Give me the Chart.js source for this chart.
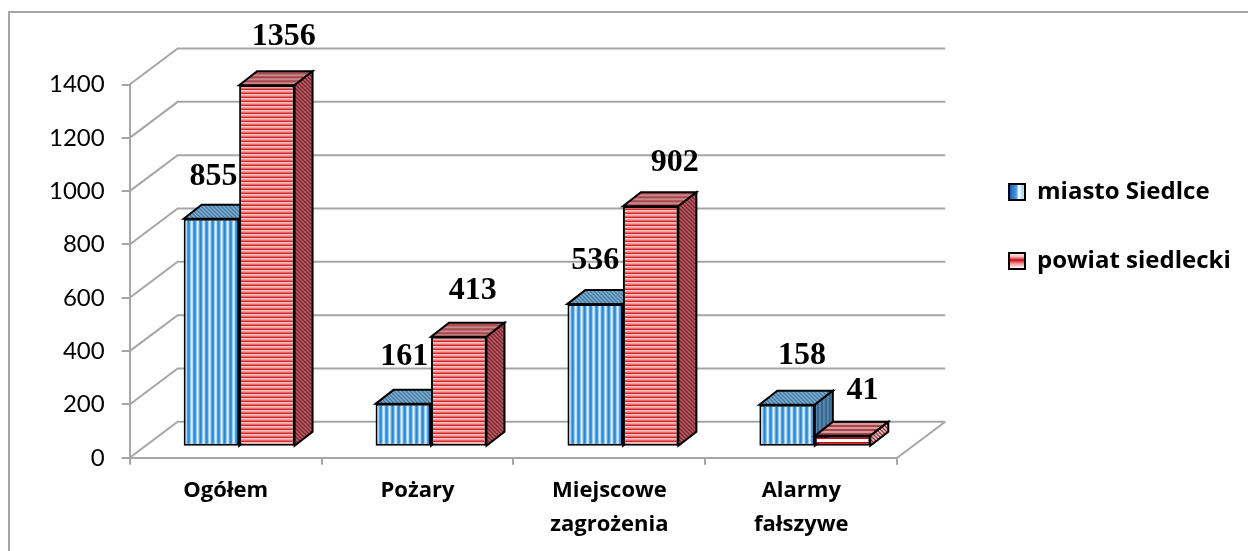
<!DOCTYPE html>
<html><head><meta charset="utf-8">
<style>html,body{margin:0;padding:0;background:#fff}canvas{display:block}</style>
<script src="https://cdn.jsdelivr.net/npm/chart.js@4"></script>
</head><body><canvas id="c" width="1248" height="551"></canvas>
<script>
const categories = [["Ogółem"],["Pożary"],["Miejscowe","zagrożenia"],["Alarmy","fałszywe"]];
const seriesNames = ["miasto Siedlce","powiat siedlecki"];
const miastoValues = [855,161,536,158];
const powiatValues = [1356,413,902,41];
const yMin = 0, yMax = 1400, yStep = 200;

// layout of the 3D look
const WALL = {dx:48, dy:-36};
const BAR_SHIFT = {dx:13.5, dy:-11};
const BAR_DEPTH = {dx:18, dy:-14};
const GRAY = "#a6a6a6";
const labelNudge = [
  [[2,-42],[1,-47],[0,-43],[15,-49]],
  [[17,-48],[14,-46],[24,-44],[20,-45]]
];

const ctx0 = document.getElementById("c").getContext("2d");
function pat(w,h,paint){
  const c=document.createElement("canvas");c.width=w;c.height=h;
  const x=c.getContext("2d");paint(x);
  return ctx0.createPattern(c,"repeat");
}
function vstripes(cols){return pat(cols.length,1,x=>cols.forEach((k,i)=>{x.fillStyle=k;x.fillRect(i,0,1,1)}))}
function hstripes(cols){return pat(1,cols.length,x=>cols.forEach((k,i)=>{x.fillStyle=k;x.fillRect(0,i,1,1)}))}
function hatch(a,b){return pat(4,4,x=>{x.fillStyle=a;x.fillRect(0,0,4,4);x.fillStyle=b;[[0,0],[1,1],[2,2],[3,3],[1,0],[2,1],[3,2],[0,3]].forEach(p=>x.fillRect(p[0],p[1],1,1))})}

const blueFront = vstripes(["#2d88d2","#2d88d2","#5aa5e0","#d6eafa","#eaf4fc","#7fbbe8"]);
const redFront = hstripes(["#d8222a","#f9c6c6","#f2a0a0","#e46a6a"]);
const R_="#c80a12",W_="#ffffff";
const redWide = hstripes([W_,W_,R_,R_,R_,R_,R_,R_,R_,R_,W_]);
const blueTop = hatch("#3f79a6","#86b0cf");
const blueSide = vstripes(["#2f5f88","#3f729c","#6c94b4","#3f729c"]);
const redTop = hstripes(["#a84a50","#bf7478","#c98a8c","#b05a5e"]);
const redSide = hatch("#7d1f2a","#b9666c");
const redTopLow = hstripes(["#a8434a","#a8434a","#d59a9c","#d59a9c"]);
const redSideLow = hatch("#b03038","#d0d0d0");

const legendBlue = ctx0.createLinearGradient(1010,0,1026,0);
[[0,"#0f64b4"],[0.4,"#4c9fe0"],[0.55,"#ffffff"],[0.8,"#a9d2f0"],[1,"#ffffff"]].forEach(s=>legendBlue.addColorStop(s[0],s[1]));
const legendRed = ctx0.createLinearGradient(0,252,0,268);
[[0,"#ffffff"],[0.3,"#f4b9b9"],[0.5,"#c80a12"],[0.7,"#e88"],[1,"#ffffff"]].forEach(s=>legendRed.addColorStop(s[0],s[1]));

function drawBars(chart,index){
  const c=chart.ctx,meta=chart.getDatasetMeta(index),isBlue=index===0;
  c.save();c.translate(BAR_SHIFT.dx,BAR_SHIFT.dy);
  meta.controller.draw();
  meta.data.forEach(el=>{
    const L=el.x-el.width/2,R=el.x+el.width/2,T=el.y,B=el.base;
    const low=!isBlue&&(B-T)<20;
    c.lineWidth=2;c.strokeStyle="#000";c.lineJoin="miter";
    c.fillStyle=isBlue?blueTop:(low?redTopLow:redTop);
    c.beginPath();c.moveTo(L,T);c.lineTo(L+BAR_DEPTH.dx,T+BAR_DEPTH.dy);c.lineTo(R+BAR_DEPTH.dx,T+BAR_DEPTH.dy);c.lineTo(R,T);c.closePath();c.fill();c.stroke();
    c.fillStyle=isBlue?blueSide:(low?redSideLow:redSide);
    c.beginPath();c.moveTo(R,T);c.lineTo(R+BAR_DEPTH.dx,T+BAR_DEPTH.dy);c.lineTo(R+BAR_DEPTH.dx,B+BAR_DEPTH.dy);c.lineTo(R,B);c.closePath();c.fill();c.stroke();
  });
  c.restore();
}

const depthPlugin = {
  id:"depth",
  afterLayout(chart){
    const l=chart.legend, p=l.options.labels.padding;
    const w=l.right-l.left, h=l.bottom-l.top;
    l.left=1009-p; l.right=l.left+w;
    l.top=(chart.height-h)/2-49; l.bottom=l.top+h;
  },
  beforeDraw(chart){
    const c=chart.ctx;
    c.save();c.fillStyle="#fff";c.fillRect(0,0,chart.width,chart.height);
    c.strokeStyle=GRAY;c.lineWidth=2;c.beginPath();
    c.moveTo(9,chart.height);c.lineTo(9,12);c.lineTo(chart.width,12);c.stroke();c.restore();
  },
  beforeDatasetsDraw(chart){
    const c=chart.ctx,{y}=chart.scales,a=chart.chartArea;
    c.save();c.strokeStyle=GRAY;c.lineWidth=2;c.beginPath();
    y.ticks.forEach(t=>{
      const p=y.getPixelForValue(t.value);
      c.moveTo(a.left,p);c.lineTo(a.left+WALL.dx,p+WALL.dy);c.lineTo(a.right+WALL.dx,p+WALL.dy);
    });
    c.moveTo(a.right,a.bottom);c.lineTo(a.right+WALL.dx,a.bottom+WALL.dy);
    c.stroke();c.restore();
    // the left series has to be painted first so the right one covers its side face
    drawBars(chart,0);drawBars(chart,1);
    c.save();c.fillStyle="#000";c.font="bold 32px 'Liberation Serif'";c.textAlign="center";c.textBaseline="middle";
    chart.data.datasets.forEach((ds,d)=>{
      chart.getDatasetMeta(d).data.forEach((el,i)=>{
        const n=labelNudge[d][i];
        c.fillText(String(ds.data[i]),el.x+BAR_SHIFT.dx+n[0],el.y+BAR_SHIFT.dy+n[1]);
      });
    });
    c.restore();
    return false;
  }
};

new Chart(ctx0,{
  type:"bar",
  data:{labels:categories,datasets:[
    {label:seriesNames[0],data:miastoValues,backgroundColor:blueFront,borderColor:"#000",borderWidth:2,borderSkipped:false},
    {label:seriesNames[1],data:powiatValues,backgroundColor:powiatValues.map(v=>v<100?redWide:redFront),borderColor:"#000",borderWidth:2,borderSkipped:false}
  ]},
  options:{
    responsive:false,animation:false,
    categoryPercentage:0.578,barPercentage:1,
    layout:{padding:{left:32,top:84.5,right:74,bottom:0}},
    plugins:{
      tooltip:{enabled:false},
      legend:{position:"right",labels:{
        boxWidth:16,boxHeight:16,padding:45,color:"#000",font:{family:"Open Sans",weight:"bold",size:24},
        generateLabels(){return [
          {text:seriesNames[0],fillStyle:legendBlue,strokeStyle:"#000",lineWidth:2,datasetIndex:0},
          {text:seriesNames[1],fillStyle:legendRed,strokeStyle:"#000",lineWidth:2,datasetIndex:1}
        ]}
      }}
    },
    scales:{
      x:{
        grid:{drawOnChartArea:false,color:GRAY,lineWidth:2,tickLength:7,offset:true},
        border:{color:GRAY,width:2},
        ticks:{color:"#000",maxRotation:0,padding:9,font:{family:"Open Sans",weight:"bold",size:22,lineHeight:1.55}}
      },
      y:{
        min:yMin,max:yMax,
        grid:{drawOnChartArea:false,color:GRAY,lineWidth:2,tickLength:8},
        border:{color:GRAY,width:2},
        ticks:{stepSize:yStep,color:"#000",padding:17,font:{family:"Lato",size:24},callback:v=>String(v)}
      }
    }
  },
  plugins:[depthPlugin]
});
</script></body></html>
